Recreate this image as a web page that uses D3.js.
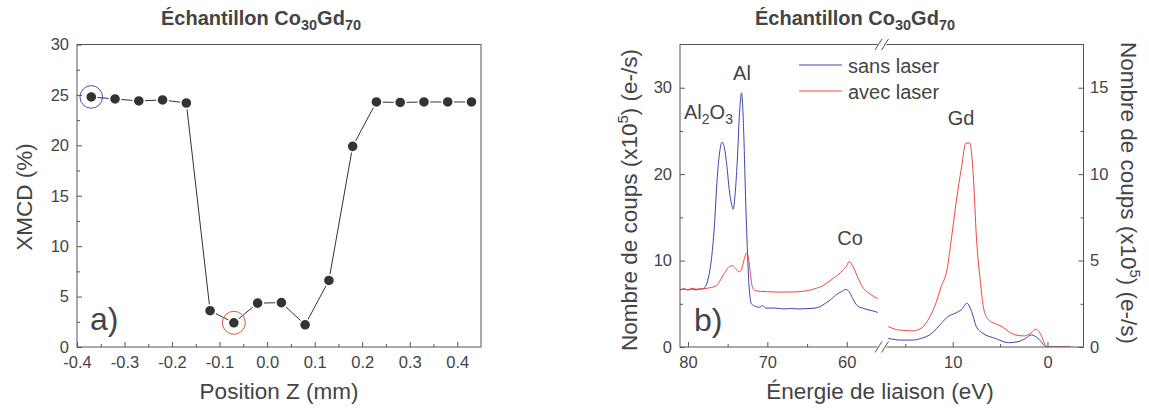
<!DOCTYPE html>
<html><head><meta charset="utf-8">
<script src="https://cdn.jsdelivr.net/npm/d3@7"></script>
<style>
body{margin:0;background:#fff;}
svg text{font-family:"Liberation Sans",Arial,Helvetica,sans-serif;fill:#444;}
</style></head><body>
<svg id="c" width="1149" height="410"></svg>
<script>
// ---------- DATA ----------
// Panel a) XMCD vs position
const zPosition = [-0.37,-0.32,-0.27,-0.22,-0.17,-0.12,-0.07,-0.02,0.03,0.08,0.13,0.18,0.23,0.28,0.33,0.38,0.43];
const xmcdPercent = [24.8,24.6,24.4,24.5,24.2,3.6,2.4,4.35,4.4,2.2,6.6,19.9,24.3,24.25,24.3,24.3,24.3];
const zTicks = [-0.4,-0.3,-0.2,-0.1,0,0.1,0.2,0.3,0.4];
const zTickLabels = ["-0.4","-0.3","-0.2","-0.1","0.0","0.1","0.2","0.3","0.4"];
const zMinorTicks = [-0.35,-0.25,-0.15,-0.05,0.05,0.15,0.25,0.35];
const xmcdTicks = [0,5,10,15,20,25,30];
const xmcdMinorTicks = [2.5,7.5,12.5,17.5,22.5,27.5];

// Panel b) photoemission spectra, left energy segment (left axis, x10^5 e-/s)
const sansLaserHigh = [[81.0,6.6],[80.4,6.7],[80.0,6.6],[79.5,6.7],[79.0,6.6],[78.5,6.7],[78.2,6.7],[77.8,7.0],[77.4,8.1],[77.0,10.5],[76.7,13.6],[76.3,19.7],[76.0,22.6],[75.7,23.7],[75.4,23.0],[75.1,21.0],[74.8,18.2],[74.5,16.5],[74.3,15.95],[74.05,17.8],[73.8,21.3],[73.5,27.1],[73.25,29.4],[73.0,25.5],[72.75,17.5],[72.5,10.9],[72.3,7.0],[72.0,5.0],[71.5,4.7],[71.0,4.6],[70.6,4.8],[70.2,4.5],[69.0,4.5],[68.0,4.4],[67.0,4.45],[66.0,4.4],[65.0,4.45],[64.0,4.5],[63.3,4.7],[62.7,5.05],[62.0,5.5],[61.4,6.0],[60.7,6.4],[60.1,6.65],[59.7,6.4],[59.3,5.7],[58.7,4.8],[58.0,4.5],[57.5,4.35],[56.8,4.2],[56.1,4.0]];
const avecLaserHigh = [[81.0,6.6],[80.5,6.75],[80.0,6.6],[79.5,6.8],[79.0,6.7],[78.0,6.75],[77.0,6.9],[76.5,7.05],[76.0,7.6],[75.7,8.1],[75.2,8.8],[74.8,9.3],[74.4,9.4],[74.0,9.1],[73.6,8.7],[73.3,8.9],[72.9,10.2],[72.6,10.9],[72.3,9.8],[72.1,8.2],[71.9,7.0],[71.5,6.5],[70.0,6.4],[68.0,6.35],[66.0,6.4],[64.8,6.55],[63.8,6.8],[63.1,7.05],[62.2,7.6],[61.4,8.15],[60.8,8.6],[60.4,9.0],[60.0,9.4],[59.7,9.9],[59.4,9.6],[59.1,9.1],[58.5,7.8],[57.9,6.8],[57.3,6.3],[56.7,5.9],[56.1,5.6]];
// right energy segment (right axis, x10^5 e-/s)
const sansLaserLow = [[16.8,0.5],[15.4,0.4],[14.3,0.4],[13.3,0.5],[12.2,0.79],[11.2,1.37],[10.5,1.76],[9.75,1.95],[9.05,2.18],[8.5,2.53],[8.0,2.05],[7.5,1.18],[6.8,0.79],[5.5,0.5],[4.1,0.25],[3.1,0.31],[2.3,0.5],[1.7,0.7],[1.0,0.5],[0.1,0.02],[-0.5,0],[-2.4,0]];
const avecLaserLow = [[16.8,1.18],[16.2,1.05],[15.7,0.98],[14.8,0.95],[14.3,0.93],[13.3,1.08],[12.6,1.56],[11.9,2.34],[11.2,3.5],[10.6,4.46],[10.1,6.4],[9.6,8.5],[9.05,10.45],[8.6,11.8],[8.2,11.8],[7.8,9.7],[7.5,6.4],[7.1,3.9],[6.7,2.14],[6.2,1.56],[5.5,1.35],[4.8,1.18],[4.1,0.9],[3.4,0.7],[2.4,0.64],[1.7,0.83],[1.2,1.03],[0.9,0.9],[0.6,0.6],[0.1,0.02],[-0.5,0],[-2.4,0]];
const energyTicksHigh = [80,70,60];
const energyMinorHigh = [75,65];
const energyTicksLow = [10,0];
const energyMinorLow = [15,5];
const countTicksLeft = [0,10,20,30];
const countMinorLeft = [5,15,25];
const countTicksRight = [0,5,10,15];
const countMinorRight = [2.5,7.5,12.5];
const seriesNames = ["sans laser","avec laser"];
const seriesColors = ["#3f44ad","#f0473c"];

// ---------- DRAW ----------
const svg = d3.select("#c");
const axisColor = "#555";

function styleAxis(g){
  g.select(".domain").remove();
  g.selectAll("line").attr("stroke",axisColor);
  g.selectAll("text").style("font-size","16.5px").attr("fill","#444");
}

// ----- Panel a -----
const xA = d3.scaleLinear().domain([-0.4,0.45]).range([77,481]);
const yA = d3.scaleLinear().domain([0,30]).range([347,44.5]);

svg.append("g").attr("transform","translate(0,347)")
  .call(d3.axisBottom(xA).tickValues(zTicks).tickSize(-5).tickPadding(9.5).tickFormat((d,i)=>zTickLabels[i])).call(styleAxis);
svg.append("g").attr("transform","translate(0,347)")
  .call(d3.axisBottom(xA).tickValues(zMinorTicks).tickSize(-3).tickFormat("")).call(styleAxis);
svg.append("g").attr("transform","translate(77,0)")
  .call(d3.axisLeft(yA).tickValues(xmcdTicks).tickSize(-5).tickPadding(8)).call(styleAxis);
svg.append("g").attr("transform","translate(77,0)")
  .call(d3.axisLeft(yA).tickValues(xmcdMinorTicks).tickSize(-3).tickFormat("")).call(styleAxis);
svg.append("rect").attr("x",77).attr("y",44.5).attr("width",404).attr("height",302.5)
  .attr("fill","none").attr("stroke",axisColor).attr("stroke-width",1);

const ptsA = zPosition.map((z,i)=>[z,xmcdPercent[i]]);
svg.append("path").datum(ptsA)
  .attr("d",d3.line().x(d=>xA(d[0])).y(d=>yA(d[1])))
  .attr("fill","none").attr("stroke","#333").attr("stroke-width",1);
svg.append("g").selectAll("circle").data(ptsA).join("circle")
  .attr("cx",d=>xA(d[0])).attr("cy",d=>yA(d[1])).attr("r",5.6)
  .attr("fill","#333").attr("stroke","#fff").attr("stroke-width",1.6);
svg.append("circle").attr("cx",xA(zPosition[0])).attr("cy",yA(xmcdPercent[0])).attr("r",11.3)
  .attr("fill","none").attr("stroke","#4a4fb5").attr("stroke-width",1);
svg.append("circle").attr("cx",xA(zPosition[6])).attr("cy",yA(xmcdPercent[6])).attr("r",11.5)
  .attr("fill","none").attr("stroke","#ee4a3c").attr("stroke-width",1);

svg.append("text").attr("x",90).attr("y",330).style("font-size","32px").text("a)");
svg.append("text").attr("transform","translate(32,197) rotate(-90)").attr("text-anchor","middle")
  .style("font-size","22.5px").text("XMCD (%)");
svg.append("text").attr("x",279).attr("y",399).attr("text-anchor","middle")
  .style("font-size","22.5px").text("Position Z (mm)");

function title(x){
  const t = svg.append("text").attr("x",x).attr("y",25).attr("text-anchor","middle")
    .style("font-size","20px").style("font-weight","bold");
  t.append("tspan").text("Échantillon Co");
  t.append("tspan").attr("dy",5).style("font-size","14.5px").text("30");
  t.append("tspan").attr("dy",-5).text("Gd");
  t.append("tspan").attr("dy",5).style("font-size","14.5px").text("70");
}
title(261);

// ----- Panel b -----
const xH = d3.scaleLinear().domain([81,55.5]).range([680,882.5]);
const xLo = d3.scaleLinear().domain([17.4,-3.8]).range([882.5,1083.5]);
const yLft = d3.scaleLinear().domain([0,35]).range([347,44.5]);
const yRgt = d3.scaleLinear().domain([0,17.5]).range([347,44.5]);

svg.append("defs").append("clipPath").attr("id","clipB").append("rect")
  .attr("x",680).attr("y",44.5).attr("width",403.5).attr("height",302.5);

svg.append("g").attr("transform","translate(0,347)")
  .call(d3.axisBottom(xH).tickValues(energyTicksHigh).tickSize(-5).tickPadding(9.5)).call(styleAxis);
svg.append("g").attr("transform","translate(0,347)")
  .call(d3.axisBottom(xH).tickValues(energyMinorHigh).tickSize(-3).tickFormat("")).call(styleAxis);
svg.append("g").attr("transform","translate(0,347)")
  .call(d3.axisBottom(xLo).tickValues(energyTicksLow).tickSize(-5).tickPadding(9.5)).call(styleAxis);
svg.append("g").attr("transform","translate(0,347)")
  .call(d3.axisBottom(xLo).tickValues(energyMinorLow).tickSize(-3).tickFormat("")).call(styleAxis);
svg.append("g").attr("transform","translate(680,0)")
  .call(d3.axisLeft(yLft).tickValues(countTicksLeft).tickSize(-5).tickPadding(8)).call(styleAxis);
svg.append("g").attr("transform","translate(680,0)")
  .call(d3.axisLeft(yLft).tickValues(countMinorLeft).tickSize(-3).tickFormat("")).call(styleAxis);
svg.append("g").attr("transform","translate(1083.5,0)")
  .call(d3.axisRight(yRgt).tickValues(countTicksRight).tickSize(-5).tickPadding(6.5)).call(styleAxis);
svg.append("g").attr("transform","translate(1083.5,0)")
  .call(d3.axisRight(yRgt).tickValues(countMinorRight).tickSize(-3).tickFormat("")).call(styleAxis);

const curves = svg.append("g").attr("clip-path","url(#clipB)");
const lineH = d3.line().x(d=>xH(d[0])).y(d=>yLft(d[1])).curve(d3.curveMonotoneX);
const lineLo = d3.line().x(d=>xLo(d[0])).y(d=>yRgt(d[1])).curve(d3.curveMonotoneX);
[[sansLaserHigh,sansLaserLow],[avecLaserHigh,avecLaserLow]].forEach((s,i)=>{
  curves.append("path").datum(s[0]).attr("d",lineH).attr("fill","none").attr("stroke",seriesColors[i]).attr("stroke-width",1);
  curves.append("path").datum(s[1]).attr("d",lineLo).attr("fill","none").attr("stroke",seriesColors[i]).attr("stroke-width",1);
});

svg.append("rect").attr("x",680).attr("y",44.5).attr("width",403.5).attr("height",302.5)
  .attr("fill","none").attr("stroke",axisColor).attr("stroke-width",1);
// axis break marks
[44.5,347].forEach(y=>{
  svg.append("rect").attr("x",877.5).attr("y",y-2).attr("width",9).attr("height",4).attr("fill","#fff");
  [878.5,885].forEach(x=>{
    svg.append("line").attr("x1",x-3.5).attr("y1",y+5.5).attr("x2",x+3.5).attr("y2",y-5.5)
      .attr("stroke",axisColor).attr("stroke-width",1);
  });
});

// legend
seriesNames.forEach((n,i)=>{
  const y = 65 + i*26;
  svg.append("line").attr("x1",799).attr("x2",842).attr("y1",y).attr("y2",y)
    .attr("stroke",seriesColors[i]).attr("stroke-width",1);
  svg.append("text").attr("x",848).attr("y",y+7.5).style("font-size","20px").text(n);
});

// annotations
const al2 = svg.append("text").attr("x",684).attr("y",119).style("font-size","20px");
al2.append("tspan").text("Al");
al2.append("tspan").attr("dy",5).style("font-size","14px").text("2");
al2.append("tspan").attr("dy",-5).text("O");
al2.append("tspan").attr("dy",5).style("font-size","14px").text("3");
svg.append("text").attr("x",742).attr("y",80).attr("text-anchor","middle").style("font-size","20px").text("Al");
svg.append("text").attr("x",850).attr("y",245).attr("text-anchor","middle").style("font-size","20px").text("Co");
svg.append("text").attr("x",961).attr("y",125).attr("text-anchor","middle").style("font-size","20px").text("Gd");
svg.append("text").attr("x",694).attr("y",331).style("font-size","32px").text("b)");

function countTitle(tr){
  const t = svg.append("text").attr("transform",tr).attr("text-anchor","middle").style("font-size","22.5px");
  t.append("tspan").text("Nombre de coups (x10");
  t.append("tspan").attr("dy",-9).style("font-size","15px").text("5");
  t.append("tspan").attr("dy",9).text(") (e-/s)");
}
countTitle("translate(637,200) rotate(-90)");
countTitle("translate(1121,193) rotate(90)");
svg.append("text").attr("x",880).attr("y",399).attr("text-anchor","middle")
  .style("font-size","22.5px").text("Énergie de liaison (eV)");
title(855);
</script>
</body></html>
